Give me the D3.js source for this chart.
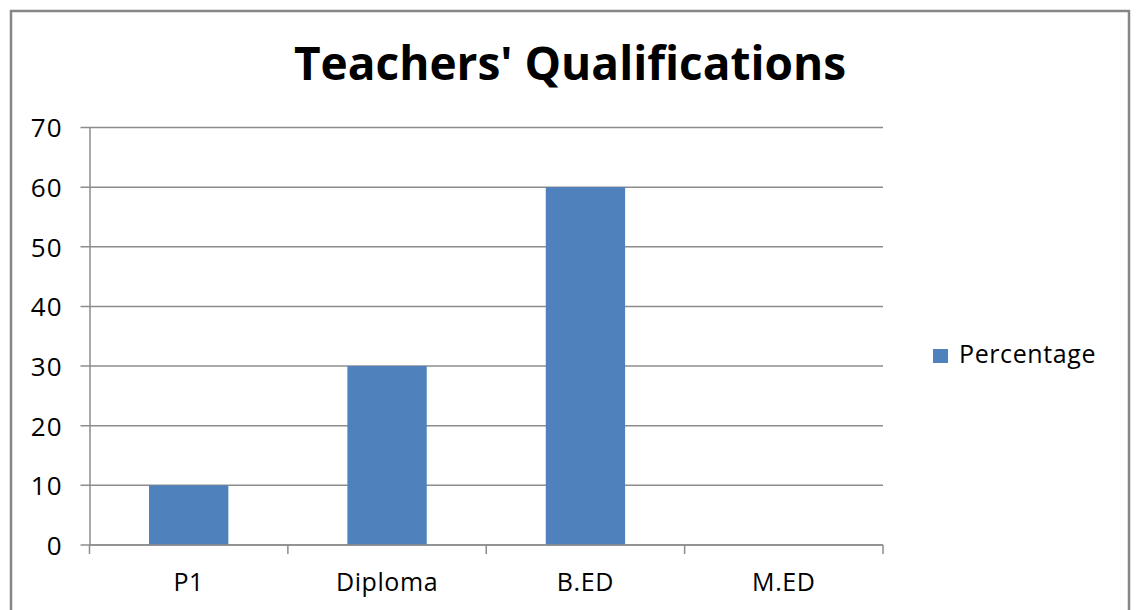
<!DOCTYPE html>
<html>
<head>
<meta charset="utf-8">
<script src="https://cdn.jsdelivr.net/npm/d3@7"></script>
<style>
  body { margin: 0; background: #fff; }
  text { font-family: "Open Sans", "DejaVu Sans", sans-serif; fill: #000; }
</style>
</head>
<body>
<div id="chart"></div>
<script>
// data
var categories = ["P1", "Diploma", "B.ED", "M.ED"];
var percentage = [10, 30, 60, 0];
var yTicks = [0, 10, 20, 30, 40, 50, 60, 70];
var seriesName = "Percentage";
var title = "Teachers' Qualifications";

var W = 1138, H = 610;
var plot = { left: 89.5, right: 883, top: 127.5, bottom: 545 };
var barColor = "#4F81BD";
var lineColor = "#8c8c8c";

var svg = d3.select("#chart").append("svg")
    .attr("width", W)
    .attr("height", H);

/* outer frame */
svg.append("rect")
    .attr("x", 11).attr("y", 11)
    .attr("width", 1118).attr("height", 640)
    .attr("fill", "none")
    .attr("stroke", "#868686")
    .attr("stroke-width", 2.5);

var x = d3.scaleBand()
    .domain(categories)
    .range([plot.left, plot.right])
    .paddingInner(0.6)
    .paddingOuter(0.3);

var xCat = d3.scaleBand()
    .domain(categories)
    .range([plot.left, plot.right]);

var y = d3.scaleLinear()
    .domain([0, 70])
    .range([plot.bottom, plot.top]);

/* gridlines */
svg.append("g")
    .selectAll("line")
    .data(yTicks).enter()
    .append("line")
    .attr("x1", plot.left - 9)
    .attr("x2", plot.right)
    .attr("y1", d => y(d))
    .attr("y2", d => y(d))
    .attr("stroke", lineColor)
    .attr("stroke-width", 1.5);

/* y axis */
var yAxis = d3.axisLeft(y).tickValues(yTicks).tickSize(0).tickPadding(27);
svg.append("g")
    .attr("transform", `translate(${plot.left}, 0)`)
    .call(yAxis)
    .call(g => g.select(".domain").attr("stroke", lineColor).attr("stroke-width", 1.5))
    .selectAll("text")
    .style("font-size", "26px")
    .style("letter-spacing", "1px")
    .attr("dy", "0.36em");

/* bars */
svg.append("g")
    .selectAll("rect")
    .data(percentage).enter()
    .append("rect")
    .attr("x", (d, i) => x(categories[i]))
    .attr("width", x.bandwidth())
    .attr("y", d => y(d))
    .attr("height", d => y(0) - y(d))
    .attr("fill", barColor);

/* x axis */
var xAxis = d3.axisBottom(xCat).tickSize(0).tickPadding(28);
svg.append("g")
    .attr("transform", `translate(0, ${plot.bottom})`)
    .call(xAxis)
    .call(g => g.select(".domain").remove())
    .selectAll("text")
    .style("font-size", "25px")
    .style("letter-spacing", "0.6px");

// category boundary ticks
svg.append("g")
    .selectAll("line")
    .data(categories.map(c => xCat(c)).concat([plot.right])).enter()
    .append("line")
    .attr("x1", d => d).attr("x2", d => d)
    .attr("y1", plot.bottom).attr("y2", plot.bottom + 9)
    .attr("stroke", lineColor)
    .attr("stroke-width", 1.5);

svg.append("line")
    .attr("x1", plot.left).attr("x2", plot.right)
    .attr("y1", plot.bottom).attr("y2", plot.bottom)
    .attr("stroke", lineColor)
    .attr("stroke-width", 1.5);

/* title */
svg.append("text")
    .attr("x", 570)
    .attr("y", 80)
    .attr("text-anchor", "middle")
    .style("font-size", "46px")
    .style("font-weight", "bold")
    .text(title);

/* legend */
var legend = svg.append("g").attr("transform", "translate(933, 349)");
legend.append("rect")
    .attr("width", 15).attr("height", 14)
    .attr("fill", barColor);
legend.append("text")
    .attr("x", 26).attr("y", 14)
    .style("font-size", "25px")
    .style("letter-spacing", "0.6px")
    .text(seriesName);
</script>
</body>
</html>
